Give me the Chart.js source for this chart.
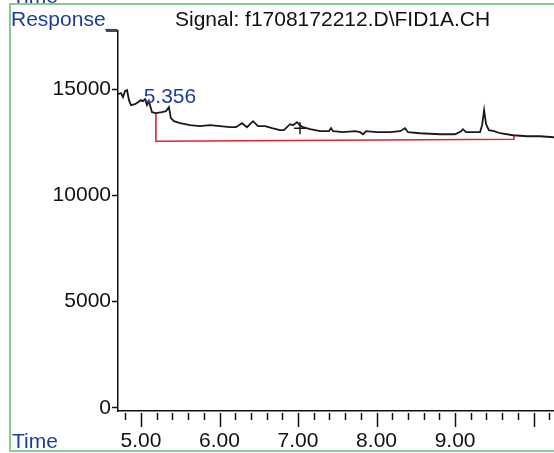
<!DOCTYPE html>
<html>
<head>
<meta charset="utf-8">
<title>FID1A signal</title>
<script src="https://cdn.jsdelivr.net/npm/chart.js@4/dist/chart.umd.min.js"></script>
<style>
  html, body { margin: 0; padding: 0; background: #fff; }
  canvas { display: block; }
</style>
</head>
<body>
<canvas id="signalChart" width="554" height="453"></canvas>
<script>
// retention time (min) and detector response
const times = [4.707, 4.745, 4.771, 4.796, 4.822, 4.847, 4.873, 4.924, 4.962, 5.000,
  5.025, 5.051, 5.076, 5.100, 5.140, 5.190, 5.268, 5.318, 5.356, 5.380,
  5.420, 5.497, 5.624, 5.750, 5.880, 6.006, 6.134, 6.210, 6.287, 6.350,
  6.427, 6.490, 6.580, 6.670, 6.770, 6.820, 6.898, 6.936, 6.987, 7.025,
  7.064, 7.153, 7.280, 7.395, 7.420, 7.446, 7.573, 7.726, 7.790, 7.828,
  7.866, 8.006, 8.170, 8.300, 8.363, 8.400, 8.554, 8.810, 9.000, 9.076,
  9.100, 9.140, 9.217, 9.318, 9.344, 9.370, 9.395, 9.430, 9.497, 9.573,
  9.740, 9.917, 10.080, 10.260];
const response = [14764, 14811, 14623, 14906, 14953, 14481, 14245, 14292, 14386, 14481,
  14434, 14528, 14245, 14434, 13916, 13868, 13916, 13963, 14151, 13633,
  13491, 13396, 13302, 13255, 13302, 13255, 13208, 13208, 13396, 13208,
  13491, 13255, 13255, 13160, 13066, 13066, 13349, 13302, 13443, 13302,
  13208, 13113, 13019, 13019, 13160, 13019, 12972, 13019, 12972, 12877,
  13019, 12972, 12972, 13019, 13160, 12972, 12924, 12877, 12877, 13019,
  13113, 12972, 12972, 12972, 13302, 14009, 13349, 13066, 13019, 12924,
  12830, 12783, 12783, 12736];

// integration baseline (red)
const baseTimes = [5.19, 5.19, 9.75, 9.75];
const baseResponse = [13868, 12547, 12642, 12830];

// small cross marker on the trace
const markTimes = [7.025];
const markResponse = [13160];

const peakLabel = '5.356';
const peakTime = 5.356;
const peakResponse = 14151;

const yTicks = [0, 5000, 10000, 15000];
const xLabelTicks = [5, 6, 7, 8, 9];
const xTickRange = [4.8, 10.2];
const xMinorStep = 0.2;

const signalTitle = 'Signal: f1708172212.D\\FID1A.CH';
const blue = '#1d3d9e';
const font = '"Liberation Sans", Arial, sans-serif';

const toPoints = (xs, ys) => xs.map((x, i) => ({ x: x, y: ys[i] }));

const decorations = {
  id: 'decorations',
  beforeDraw(chart) {
    const ctx = chart.ctx;
    ctx.save();
    ctx.fillStyle = '#fff';
    ctx.fillRect(0, 0, chart.width, chart.height);
    // green frame of the report page
    ctx.strokeStyle = '#8bcb8b';
    ctx.lineWidth = 2;
    ctx.beginPath();
    ctx.moveTo(chart.width, 4);
    ctx.lineTo(10, 4);
    ctx.lineTo(10, 451);
    ctx.lineTo(chart.width, 451);
    ctx.stroke();
    ctx.restore();
  },
  afterDraw(chart) {
    const { ctx, chartArea, scales: { x, y } } = chart;
    ctx.save();

    // time axis tick marks, long ones on whole minutes
    ctx.strokeStyle = '#111';
    ctx.lineWidth = 1.5;
    const n = Math.round((xTickRange[1] - xTickRange[0]) / xMinorStep);
    for (let k = 0; k <= n; k++) {
      const t = xTickRange[0] + k * xMinorStep;
      const major = Math.abs(t - Math.round(t)) < 1e-6;
      const px = Math.round(x.getPixelForValue(t)) + 0.5;
      ctx.beginPath();
      ctx.moveTo(px, chartArea.bottom + 2);
      ctx.lineTo(px, chartArea.bottom + (major ? 16 : 9));
      ctx.stroke();
    }

    // top tick of response axis
    ctx.beginPath();
    ctx.moveTo(106, chartArea.top);
    ctx.lineTo(chartArea.left, chartArea.top);
    ctx.stroke();

    ctx.font = '21px ' + font;
    ctx.textBaseline = 'alphabetic';
    ctx.textAlign = 'left';
    ctx.fillStyle = blue;
    ctx.fillText('Time', 12, 3);
    ctx.fillText('Response_', 11, 26);
    ctx.fillText('Time', 12, 448);
    ctx.fillStyle = '#111';
    ctx.fillText(signalTitle, 175, 26);

    // peak retention time label
    ctx.fillStyle = blue;
    ctx.textAlign = 'center';
    ctx.fillText(peakLabel, x.getPixelForValue(peakTime) + 1, y.getPixelForValue(peakResponse) - 4);
    ctx.restore();
  }
};

new Chart(document.getElementById('signalChart'), {
  type: 'scatter',
  data: {
    datasets: [
      {
        label: 'FID1A',
        data: toPoints(times, response),
        showLine: true,
        borderColor: '#1a1a1a',
        borderWidth: 1.8,
        pointRadius: 0,
        tension: 0
      },
      {
        label: 'Baseline',
        data: toPoints(baseTimes, baseResponse),
        showLine: true,
        borderColor: '#e3262a',
        borderWidth: 1.6,
        pointRadius: 0,
        tension: 0
      },
      {
        label: 'Mark',
        data: toPoints(markTimes, markResponse),
        showLine: false,
        pointStyle: 'cross',
        pointRadius: 6,
        borderColor: '#1a1a1a',
        borderWidth: 1.5
      }
    ]
  },
  options: {
    responsive: false,
    animation: false,
    devicePixelRatio: 1,
    layout: { autoPadding: false, padding: { top: 31, left: 0, right: 0, bottom: 0 } },
    plugins: {
      legend: { display: false },
      tooltip: { enabled: false }
    },
    scales: {
      x: {
        type: 'linear',
        min: 4.707,
        max: 10.26,
        afterBuildTicks: scale => { scale.ticks = xLabelTicks.map(v => ({ value: v })); },
        afterFit: scale => {
          scale.height = 42;
          scale.paddingLeft = 0;
          scale.paddingRight = 0;
        },
        border: { display: true, color: '#111', width: 1.5 },
        grid: { drawOnChartArea: false, drawTicks: false },
        ticks: {
          maxRotation: 0,
          autoSkip: false,
          padding: 18,
          color: '#111',
          font: { size: 21, family: font },
          callback: v => v.toFixed(2)
        }
      },
      y: {
        min: -150,
        max: 17736,
        afterBuildTicks: scale => { scale.ticks = yTicks.map(v => ({ value: v })); },
        afterFit: scale => {
          scale.width = 118;
          scale.paddingTop = 0;
          scale.paddingBottom = 0;
        },
        border: { display: true, color: '#111', width: 1.5 },
        grid: { drawOnChartArea: false, drawTicks: true, tickLength: 6, tickColor: '#111', tickWidth: 1.5 },
        ticks: {
          padding: 1,
          color: '#111',
          font: { size: 21, family: font },
          callback: v => String(v)
        }
      }
    }
  },
  plugins: [decorations]
});
</script>
</body>
</html>
